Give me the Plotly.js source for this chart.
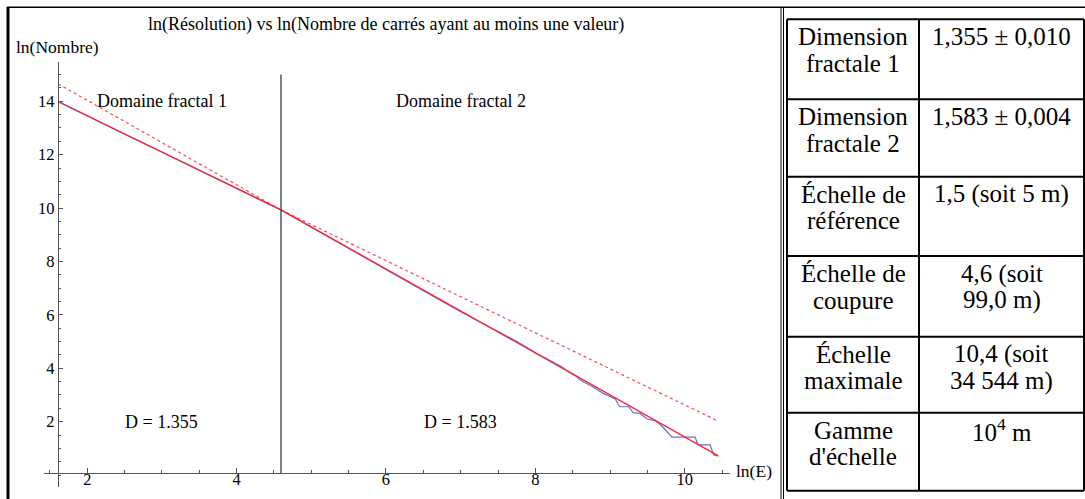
<!DOCTYPE html>
<html>
<head>
<meta charset="utf-8">
<script src="https://cdn.plot.ly/plotly-3.0.1.min.js"></script>
<style>html,body{margin:0;padding:0;background:#fff;}#chart{width:1085px;height:499px;}</style>
</head>
<body>
<div id="chart"></div>
<script>
// ---- data ----
const chartTitle = "ln(Résolution) vs ln(Nombre de carrés ayant au moins une valeur)";
const yAxisLabel = "ln(Nombre)";
const xAxisLabel = "ln(E)";
const xTickVals = [2, 4, 6, 8, 10];
const yTickVals = [2, 4, 6, 8, 10, 12, 14];

// observed curve ln(E) vs ln(N)
const xData = [1.609, 2.0, 2.5, 3.0, 3.5, 4.0, 4.594, 5.0, 5.5, 6.0, 6.5, 7.0, 7.5, 7.8, 8.0, 8.33, 8.49, 8.55, 8.60, 8.78, 8.91, 9.07, 9.13, 9.25, 9.31, 9.40, 9.50, 9.60, 9.65, 9.71, 9.83, 10.14, 10.18, 10.34, 10.39, 10.44];
const yData = [14.00, 13.45, 12.77, 12.10, 11.42, 10.74, 9.93, 9.28, 8.50, 7.70, 6.90, 6.12, 5.38, 4.93, 4.58, 4.09, 3.79, 3.69, 3.56, 3.29, 3.06, 2.85, 2.56, 2.56, 2.34, 2.31, 2.10, 2.04, 1.94, 1.79, 1.42, 1.42, 1.13, 1.13, 0.75, 0.72];

// fitted lines (solid) and cross-extrapolations (dashed)
const cutX = 4.594;
const fit1X = [1.609, 4.594], fit1Y = [13.98, 9.93];
const fit2X = [4.594, 10.45], fit2Y = [9.93, 0.72];
const ext2X = [1.609, 4.594], ext2Y = [14.65, 9.93];
const ext1X = [4.594, 10.45], ext1Y = [9.93, 2.02];
const cutLineY = [0.067, 15.0];

const domainLabels = ["Domaine fractal 1", "Domaine fractal 2"];
const domainLabelX = [3, 7];
const domainLabelY = [14, 14];
const dimLabels = ["D = 1.355", "D = 1.583"];
const dimLabelX = [3, 7];
const dimLabelY = [2, 2];

// table
const tableLeft = [["Dimension", "fractale 1"], ["Dimension", "fractale 2"], ["Échelle de", "référence"], ["Échelle de", "coupure"], ["Échelle", "maximale"], ["Gamme", "d'échelle"]];
const tableRight = [["1,355 ± 0,010"], ["1,583 ± 0,004"], ["1,5 (soit 5 m)"], ["4,6 (soit", "99,0 m)"], ["10,4 (soit", "34 544 m)"], ["10<sup>4</sup> m"]];

// ---- layout geometry (pixels) ----
const W = 1085, H = 499;
const PX = x => x / W;
const PY = y => 1 - y / H;
const serif = "'Liberation Serif', 'Times New Roman', 'DejaVu Serif', serif";

const rowEdges = [19.3, 99.3, 176.7, 256, 336.7, 412.7, 490.7];
const tabL = 787, tabM = 919, tabR = 1084;

const shapes = [];
const line = (x0, y0, x1, y1, w, c) => shapes.push({type: 'line', xref: 'paper', yref: 'paper', x0: PX(x0), y0: PY(y0), x1: PX(x1), y1: PY(y1), line: {color: c || '#000', width: w}});
// outer frame
line(7, 7.3, 1085, 7.3, 1.5);
line(8, 7, 8, 499, 3);
line(781, 7.3, 781, 499, 1);
line(783.5, 7.3, 783.5, 499, 1);
// table grid
line(tabL, rowEdges[0], tabR, rowEdges[0], 2);
line(tabL, rowEdges[6], tabR, rowEdges[6], 2);
line(tabL, rowEdges[0], tabL, rowEdges[6], 2);
line(tabR, rowEdges[0], tabR, rowEdges[6], 2);
line(tabM, rowEdges[0], tabM, rowEdges[6], 2);
for (let i = 1; i < 6; i++) line(tabL, rowEdges[i], tabR, rowEdges[i], 2);

const annotations = [];
const ann = (text, x, y, size, xanchor, xref, yref) => annotations.push({text: text, x: x, y: y, xref: xref || 'paper', yref: yref || 'paper', showarrow: false, xanchor: xanchor || 'center', yanchor: 'middle', font: {family: serif, size: size, color: '#000'}});

ann(chartTitle, PX(386), PY(24), 18);
ann(yAxisLabel, PX(14), PY(47), 17.5, 'left');
ann(xAxisLabel, PX(734), PY(471), 17.5, 'left');
for (let i = 0; i < 2; i++) {
  ann(domainLabels[i], domainLabelX[i], domainLabelY[i], 18, 'center', 'x', 'y');
  ann(dimLabels[i], dimLabelX[i], dimLabelY[i], 18, 'center', 'x', 'y');
}
const colL = (tabL + tabM) / 2, colR = (tabM + tabR) / 2;
for (let r = 0; r < 6; r++) {
  const top = rowEdges[r];
  tableLeft[r].forEach((t, k) => ann(t, PX(colL), PY(top + 17.5 + k * 26.5), 25));
  tableRight[r].forEach((t, k) => ann(t, PX(colR), PY(top + 17.5 + k * 26.5), 25));
}

const traces = [
  {x: xData, y: yData, mode: 'lines', line: {color: 'rgb(110,110,215)', width: 1.2}, hoverinfo: 'skip'},
  {x: ext2X, y: ext2Y, mode: 'lines', line: {color: 'rgb(255,70,70)', width: 1.2, dash: '3px,3px'}},
  {x: ext1X, y: ext1Y, mode: 'lines', line: {color: 'rgb(255,70,70)', width: 1.2, dash: '3px,3px'}},
  {x: fit1X, y: fit1Y, mode: 'lines', line: {color: 'rgb(250,35,45)', width: 1.3}},
  {x: fit2X, y: fit2Y, mode: 'lines', line: {color: 'rgb(250,35,45)', width: 1.3}},
  {x: [cutX, cutX], y: cutLineY, mode: 'lines', line: {color: 'rgb(60,60,60)', width: 1.3}},
  // empty trace so that the label-only axis x2 is drawn
  {x: [], y: [], xaxis: 'x2', yaxis: 'y', mode: 'lines'}
];

const xRange = [1.42, 10.607];
const layout = {
  width: W, height: H,
  margin: {l: 0, r: 0, t: 0, b: 0, pad: 0},
  paper_bgcolor: '#fff', plot_bgcolor: 'rgba(0,0,0,0)',
  showlegend: false,
  font: {family: serif, color: '#000'},
  xaxis: {
    domain: [PX(44), PX(730)], range: xRange,
    anchor: 'free', position: PY(473.3), side: 'bottom',
    showline: true, linecolor: '#555', linewidth: 1,
    showgrid: false, zeroline: false,
    tickvals: xTickVals, ticks: 'inside', ticklen: 5, tickcolor: '#555',
    showticklabels: false,
    minor: {dtick: 0.5, tick0: 0, ticks: 'inside', ticklen: 3, tickcolor: '#555', showgrid: false}
  },
  // label-only axis, sharing the x scale, so tick labels sit close to the axis line
  xaxis2: {
    overlaying: 'x', domain: [PX(44), PX(730)], range: xRange,
    anchor: 'free', position: PY(467), side: 'bottom',
    showline: false, showgrid: false, zeroline: false, ticks: '',
    tickvals: xTickVals,
    tickfont: {family: serif, size: 16.5, color: '#000'}
  },
  yaxis: {
    domain: [PY(487), PY(62)], range: [-0.446, 15.47],
    anchor: 'free', position: PX(57.7), side: 'left',
    showline: true, linecolor: '#555', linewidth: 1,
    showgrid: false, zeroline: false,
    tickvals: yTickVals, ticks: 'inside', ticklen: 4, tickcolor: '#555',
    minor: {dtick: 0.5, tick0: 0, ticks: 'inside', ticklen: 2.5, tickcolor: '#555', showgrid: false},
    tickfont: {family: serif, size: 16.5, color: '#000'}
  },
  shapes: shapes,
  annotations: annotations
};

Plotly.newPlot('chart', traces, layout, {displayModeBar: false, staticPlot: true});
</script>
</body>
</html>
